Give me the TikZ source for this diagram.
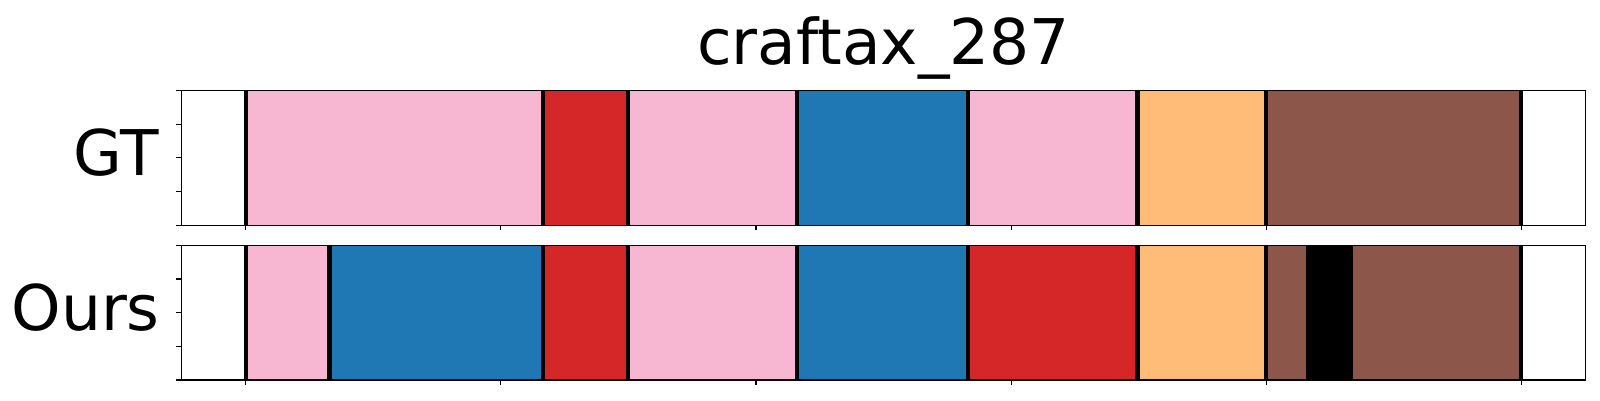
\documentclass[tikz,border=0pt]{standalone}
\usepackage{fontspec}
\setmainfont{DejaVu Sans}
\usetikzlibrary{positioning}

\definecolor{segpink}{HTML}{F7B6D2}
\definecolor{segred}{HTML}{D62728}
\definecolor{segblue}{HTML}{1F77B4}
\definecolor{segorange}{HTML}{FFBB78}
\definecolor{segbrown}{HTML}{8C564B}

\begin{document}
\begin{tikzpicture}[
    x=1pt, y=1pt,
    bigtext/.style={
      % the text:
      font=\fontsize{63}{63}\selectfont,
      inner sep=0pt,
    },
    axframe/.style={draw=black, line width=1.1pt},
    axtick/.style={line width=1.1pt},
    segline/.style={line width=4.3pt},
  ]
  \useasboundingbox (0,0) rectangle (1600,400);

  \node[bigtext, anchor=base] (title) at (883.5,336) {craftax\_287};
  \node[bigtext, anchor=base east] (gtlabel) at (159,225) {GT};
  \node[bigtext, anchor=base east] (ourslabel) at (160,70) {Ours};

  % segments, in frame units
  \begin{scope}[x=5.1024pt, xshift=245.7pt]
    \foreach \a/\b/\c in {0/58.2/segpink, 58.2/74.9/segred, 74.9/108.1/segpink,
        108.1/141.6/segblue, 141.6/174.8/segpink, 174.8/200/segorange,
        200/250/segbrown} {
      \filldraw[fill=\c, draw=\c!85!black, line width=0.6pt] (\a,174.7) rectangle (\b,309.7);
      \draw[segline] (\a,174.7) -- (\a,309.7);
    }
    \draw[segline] (250,174.7) -- (250,309.7);

    \foreach \a/\b/\c in {0/16.4/segpink, 16.4/58.2/segblue, 58.2/74.9/segred,
        74.9/108.1/segpink, 108.1/141.6/segblue, 141.6/174.8/segred,
        174.8/200/segorange, 200/208.2/segbrown, 208.2/216.5/black,
        216.5/250/segbrown} {
      \filldraw[fill=\c, draw=\c!85!black, line width=0.6pt] (\a,20) rectangle (\b,154.7);
      \draw[segline] (\a,20) -- (\a,154.7);
    }
    \draw[segline] (250,20) -- (250,154.7);

    % x ticks
    \foreach \t in {0,50,...,250} {
      \draw[axtick] (\t,174.7) -- (\t,170.2);
      \draw[axtick] (\t,20) -- (\t,15.5);
    }
  \end{scope}

  % y ticks
  \foreach \f in {0,0.25,...,1} {
    \draw[axtick] (181.3,174.7+135*\f) -- (176.3,174.7+135*\f);
    \draw[axtick] (181.3,20+134.7*\f) -- (176.3,20+134.7*\f);
  }

  \draw[axframe] (181.3,174.7) rectangle (1585.7,309.7);
  \draw[axframe] (181.3,20) rectangle (1585.7,154.7);
\end{tikzpicture}
\end{document}
